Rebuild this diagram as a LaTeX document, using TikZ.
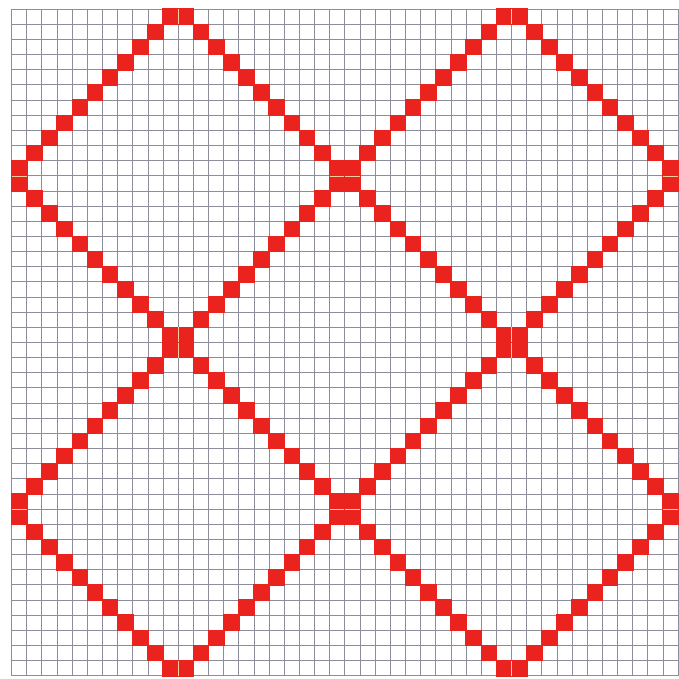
\documentclass[tikz,border=0pt]{standalone}
\definecolor{gridgray}{RGB}{140,140,155}
\definecolor{cellred}{RGB}{235,35,30}
\definecolor{seam}{RGB}{255,205,160}
\tikzset{
  gridline/.style={draw=gridgray, line width=0.75pt},
  redcell/.style={fill=cellred},
  seamline/.style={draw=seam, line width=0.5pt}
}
\begin{document}
\begin{tikzpicture}[x=0.4cm,y=-0.4cm]
  \path[use as bounding box, fill=white] (-0.77,-0.61) rectangle (44.05,44.2);
  % grid
  \foreach \i in {0,...,44} {
    \draw[gridline] (\i,0) -- (\i,44);
    \draw[gridline] (0,\i) -- (44,\i);
  }
  % red diamond cells, four tiles of 22x22
  \foreach \ox in {0,22} {
    \foreach \oy in {0,22} {
      \foreach \k in {0,...,10} {
        \fill[redcell] ({\ox+\k-0.05},{\oy+10-\k-0.05}) rectangle ++(1.1,1.1);
        \fill[redcell] ({\ox+\k-0.05},{\oy+11+\k-0.05}) rectangle ++(1.1,1.1);
        \fill[redcell] ({\ox+11+\k-0.05},{\oy+\k-0.05}) rectangle ++(1.1,1.1);
        \fill[redcell] ({\ox+11+\k-0.05},{\oy+21-\k-0.05}) rectangle ++(1.1,1.1);
      }
      % light seams inside the two-cell vertices
      \draw[seamline] ({\ox},{\oy+11}) -- ++(1,0);
      \draw[seamline] ({\ox+21},{\oy+11}) -- ++(1,0);
      \draw[seamline] ({\ox+11},{\oy}) -- ++(0,1);
      \draw[seamline] ({\ox+11},{\oy+21}) -- ++(0,1);
    }
  }
\end{tikzpicture}
\end{document}
